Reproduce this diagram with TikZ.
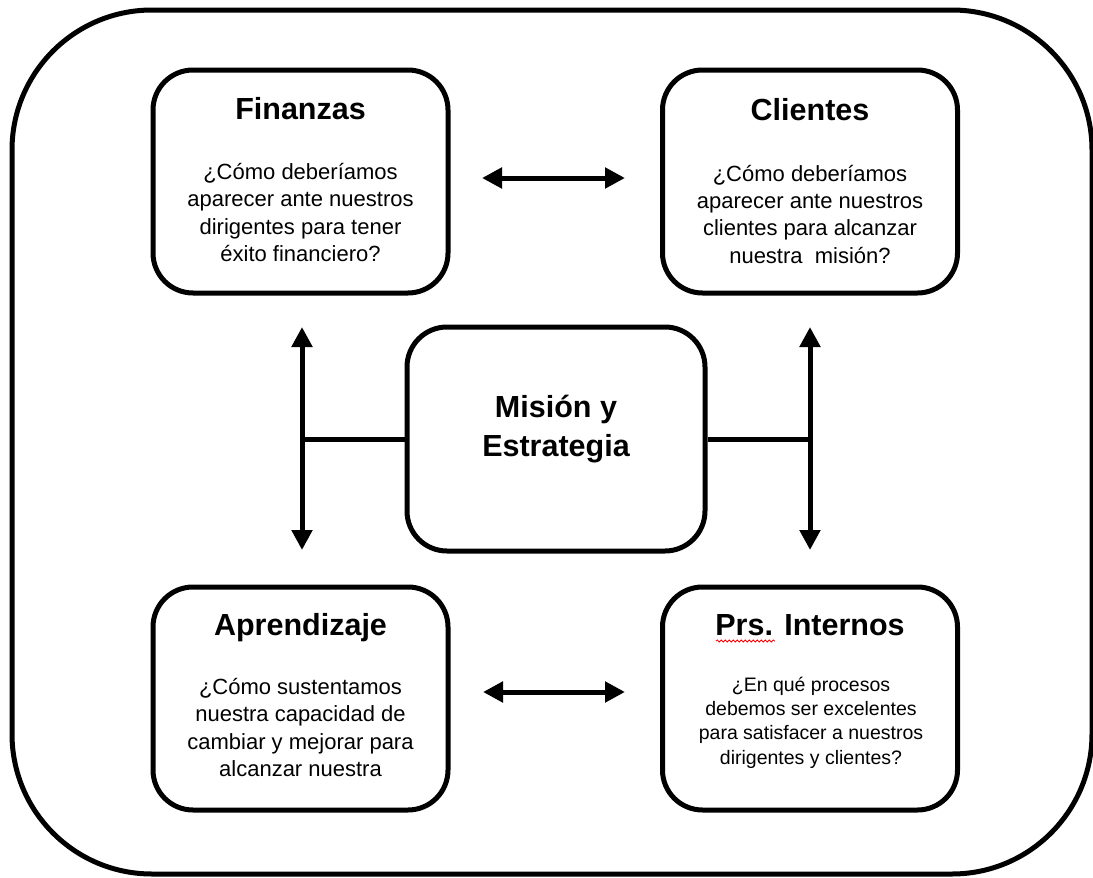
\documentclass[tikz,border=0pt]{standalone}
\usepackage{fontspec}
\setmainfont{Liberation Sans}
\usetikzlibrary{arrows.meta,decorations.pathmorphing}
\begin{document}
\begin{tikzpicture}[x=1pt,y=-1pt,
  box/.style={draw,line width=5pt,rounded corners=40pt,minimum width=295pt,minimum height=223pt,inner sep=0pt},
  heading/.style={font=\fontsize{30.5}{36}\selectfont\bfseries,anchor=base,inner sep=0pt},
  question/.style={font=\fontsize{22}{27.3}\selectfont,align=center,anchor=base,inner sep=0pt},
  link/.style={line width=5pt},
  twoway/.style={line width=5pt,{Triangle[length=20pt,width=20pt]}-{Triangle[length=20pt,width=20pt]}}]
\useasboundingbox (0,0) rectangle (1093,878);

% outer frame
\draw[line width=5pt,rounded corners=140pt] (12,10) rectangle (1092,874);

% perspective boxes
\node[box] (fin) at (300.5,181.5) {};
\node[box] (cli) at (810,181.5) {};
\node[box] (apr) at (300.5,698.5) {};
\node[box] (prs) at (810,698.5) {};
\node[box,minimum width=298pt,minimum height=224pt] (mis) at (556,439) {};

% headings (multi-line nodes sit on the baseline of their last line)
\node[heading] (finT) at (300.5,119.5) {Finanzas};
\node[heading] (cliT) at (810,120) {Clientes};
\node[heading] (aprT) at (300.5,635) {Aprendizaje};
\node[heading] (prsT) at (810,635.5) {Prs. Internos};
\node[heading,align=center] (misT) at (556,456.7) {Misión y\\[3pt]Estrategia};

% questions
\node[question] (finQ) at (300.5,261.5) {¿Cómo deberíamos\\aparecer ante nuestros\\dirigentes para tener\\éxito financiero?};
\node[question] (cliQ) at (810,263) {¿Cómo deberíamos\\aparecer ante nuestros\\clientes para alcanzar\\nuestra\ \ misión?};
\node[question] (aprQ) at (300.5,776.5) {¿Cómo sustentamos\\nuestra capacidad de\\cambiar y mejorar para\\alcanzar nuestra};
\node[question,font=\fontsize{19.5}{24.3}\selectfont] (prsQ) at (811,764) {¿En qué procesos\\debemos ser excelentes\\para satisfacer a nuestros\\dirigentes y clientes?};

% spelling mark under the abbreviation
\draw[red,line width=0.8pt,decorate,decoration={snake,amplitude=1.1pt,segment length=4pt}]
  (716,641) -- (775,641);

% horizontal links
\coordinate (tl) at (482,178);
\coordinate (tr) at (625,178);
\coordinate (bl) at (483,692);
\coordinate (br) at (625,692);
\draw[twoway] (tl) -- (tr);
\draw[twoway] (bl) -- (br);

% vertical links joined to the centre box
\coordinate (lt) at (302,327);
\coordinate (lb) at (302,550);
\coordinate (lm) at (302,439);
\coordinate (rt) at (810,327);
\coordinate (rb) at (810,550);
\coordinate (rm) at (810,439);
\draw[twoway] (lt) -- (lb);
\draw[twoway] (rt) -- (rb);
\draw[link] (lm) -- (mis.west);
\draw[link] (rm) -- (mis.east);
\end{tikzpicture}
\end{document}
